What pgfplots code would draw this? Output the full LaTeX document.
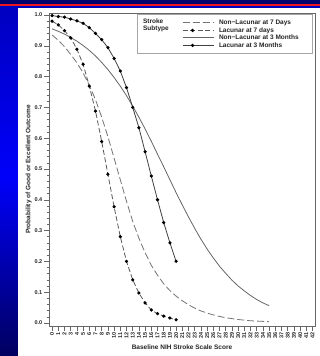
\documentclass[border=0pt]{standalone}
\usepackage{pgfplots}
\pgfplotsset{compat=1.18}
\usepackage{fontspec}
\setmainfont{Liberation Sans}
\definecolor{navy}{RGB}{0,0,110}
\definecolor{slidered}{RGB}{235,20,30}
\definecolor{bblue}{RGB}{0,0,250}
\begin{document}
\begin{tikzpicture}
\useasboundingbox (0,0) rectangle (320pt,356pt);
% slide background
\fill[top color={rgb,255:red,0;green,0;blue,190}, bottom color={rgb,255:red,0;green,0;blue,95}, middle color=bblue] (0,0) rectangle (320pt,356pt);
\fill[navy] (0,352pt) rectangle (320pt,356pt);
\fill[slidered] (0,349.5pt) rectangle (320pt,352pt);
\fill[white] (18pt,0) rectangle (320pt,348pt);
\begin{axis}[
  at={(49pt,30pt)}, anchor=south west,
  scale only axis, width=266pt, height=313pt,
  xmin=-0.5, xmax=42.4, ymin=-0.01, ymax=1.0065,
  axis line style={black!60, line width=0.6pt},
  xtick={0,1,...,42},
  ytick={0,0.1,...,1.0},
  minor y tick num=4,
  tick align=outside,
  major tick length=5pt, minor tick length=2.5pt,
  tick style={black!60, line width=0.5pt},
  xtick pos=bottom, ytick pos=left,
  /pgf/number format/assume math mode=true,
  tick label style={font=\bfseries\fontsize{5.5}{6}\selectfont, text=black!85},
  x tick label style={rotate=90, anchor=east, inner sep=1.5pt},
  y tick label style={/pgf/number format/fixed, /pgf/number format/fixed zerofill, /pgf/number format/precision=1, inner sep=1.5pt},
  xlabel={Baseline NIH Stroke Scale Score},
  ylabel={Probability of Good or Excellent Outcome},
  label style={font=\bfseries\fontsize{6.5}{7}\selectfont, text=black!85},
  xlabel style={yshift=-1pt},
  ylabel style={yshift=-2pt},
  legend style={at={(rel axis cs:0.5,0.9786)}, anchor=north west, draw=none, fill=none,
    font=\bfseries\fontsize{6.5}{7}\selectfont, text=black!85, inner sep=0pt, row sep=1.5pt, column sep=5pt,
    nodes={inner sep=0pt, text height=4.7pt, text depth=1.3pt}},
  legend cell align=left,
  legend image code/.code={\draw[mark repeat=3, mark phase=2, #1] plot coordinates {(0pt,0pt) (10pt,0pt) (21pt,0pt) (31pt,0pt)};},
]
\draw[black!35, line width=0.6pt] (rel axis cs:0.331,0.997) rectangle (rel axis cs:0.989,0.872);
\node[anchor=north west, align=left, font=\bfseries\fontsize{6.5}{7.2}\selectfont, text=black!85, inner sep=0pt] at (rel axis cs:0.353,0.983) {Stroke\\Subtype};

% Non-Lacunar at 7 Days
\addplot[black!55, line width=0.8pt, dash pattern=on 7pt off 3pt] table {
0 0.935
1 0.918
2 0.897
3 0.872
4 0.845
5 0.812
6 0.772
7 0.725
8 0.668
9 0.605
10 0.535
11 0.465
12 0.395
13 0.330
14 0.275
15 0.228
16 0.187
17 0.155
18 0.127
19 0.105
20 0.087
21 0.072
22 0.059
23 0.048
24 0.039
25 0.032
26 0.026
27 0.021
28 0.017
29 0.014
30 0.011
31 0.009
32 0.007
33 0.006
34 0.005
35 0.004
};
\addlegendentry{Non\textminus Lacunar at 7 Days}

% Lacunar at 7 days
\addplot[black!65, line width=0.8pt, dash pattern=on 5pt off 2.5pt, mark=*, mark size=1.2pt, mark options={solid, fill=black, draw=black}] table {
0 0.980
1 0.968
2 0.949
3 0.926
4 0.889
5 0.840
6 0.769
7 0.688
8 0.589
9 0.483
10 0.377
11 0.280
12 0.200
13 0.140
14 0.097
15 0.065
16 0.042
17 0.030
18 0.022
19 0.016
20 0.010
};
\addlegendentry{Lacunar at 7 days}

% Non-Lacunar at 3 Months
\addplot[black!60, line width=0.8pt] table {
0 0.955
1 0.947
2 0.938
3 0.927
4 0.915
5 0.901
6 0.885
7 0.867
8 0.846
9 0.823
10 0.797
11 0.769
12 0.738
13 0.704
14 0.668
15 0.630
16 0.590
17 0.548
18 0.507
19 0.465
20 0.423
21 0.383
22 0.344
23 0.307
24 0.272
25 0.240
26 0.211
27 0.184
28 0.161
29 0.139
30 0.120
31 0.104
32 0.089
33 0.076
34 0.065
35 0.056
};
\addlegendentry{Non\textminus Lacunar at 3 Months}

% Lacunar at 3 Months
\addplot[black!75, line width=0.8pt, mark=*, mark size=1.2pt, mark options={solid, fill=black, draw=black}] table {
0 0.998
1 0.995
2 0.993
3 0.987
4 0.981
5 0.973
6 0.959
7 0.940
8 0.920
9 0.894
10 0.859
11 0.818
12 0.764
13 0.700
14 0.634
15 0.556
16 0.477
17 0.400
18 0.326
19 0.260
20 0.200
};
\addlegendentry{Lacunar at 3 Months}
\end{axis}
\end{tikzpicture}
\end{document}
